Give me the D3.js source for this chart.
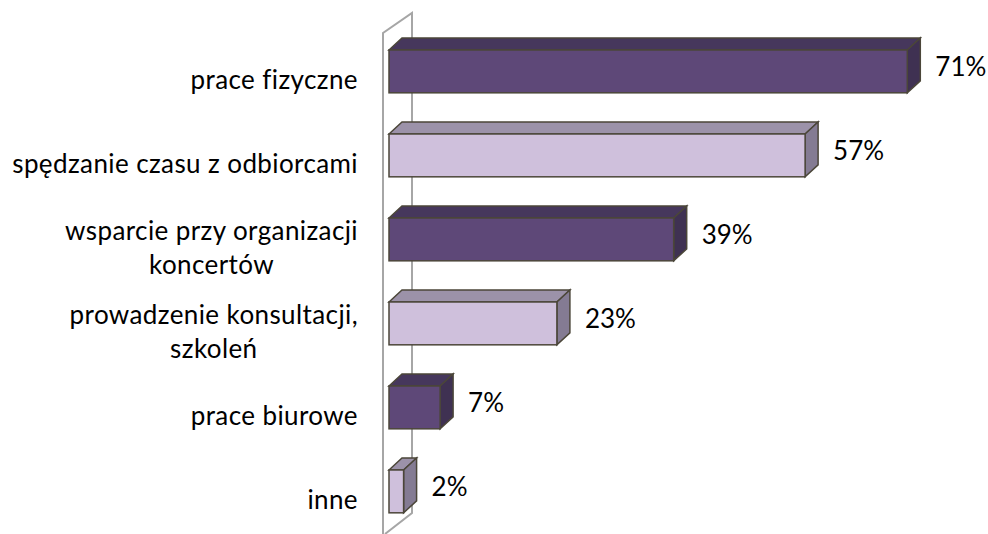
<!DOCTYPE html>
<html>
<head>
<meta charset="utf-8">
<script src="https://cdn.jsdelivr.net/npm/d3@7"></script>
<style>
  body { margin: 0; background: #fff; }
  svg { display: block; }
  text { font-family: Lato, "Open Sans", sans-serif; fill: #000; }
</style>
</head>
<body>
<div id="chart"></div>
<script>
var categories = ["prace fizyczne", "spędzanie czasu z odbiorcami", "wsparcie przy organizacji\nkoncertów",
  "prowadzenie konsultacji,\nszkoleń", "prace biurowe", "inne"];
var values = [71, 57, 39, 23, 7, 2];

var width = 988, height = 534;
var depthX = 13, depthY = 12;

var svg = d3.select("#chart").append("svg")
  .attr("width", width)
  .attr("height", height);

var x = d3.scaleLinear().domain([0, 80]).range([389, 973]);
var y = d3.scaleBand().domain(categories).range([29.4, 533.4])
  .paddingInner(0.49).paddingOuter(0.245);

// back wall
var wx = x(0) - 6, wd = 29, wh = 20;
svg.append("path")
  .attr("d", "M" + wx + "," + (height + 2) + "L" + wx + ",33L" + (wx + wd) + "," + (33 - wh) +
    "L" + (wx + wd) + "," + 513 + "L" + (wx + 2) + "," + (513 + wh + 1))
  .attr("fill", "none")
  .attr("stroke", "#a6a6a6")
  .attr("stroke-width", 2);

var colors = [
  { front: "#5e4878", top: "#46375c", side: "#3f3152" },
  { front: "#cfc0dc", top: "#9c92a9", side: "#847b93" }
];
var outline = "#4b4639";

var bars = svg.selectAll("g.bar")
  .data(values)
  .enter()
  .append("g")
  .attr("class", "bar");

bars.each(function (d, i) {
  var g = d3.select(this);
  var c = colors[i % 2];
  var x0 = x(0), x1 = x(d), y0 = y(categories[i]), h = y.bandwidth();
  g.append("path")
    .attr("d", "M" + x0 + "," + y0 + "L" + (x0 + depthX) + "," + (y0 - depthY) +
      "L" + (x1 + depthX) + "," + (y0 - depthY) + "L" + x1 + "," + y0 + "Z")
    .attr("fill", c.top).attr("stroke", outline).attr("stroke-width", 1.5);
  g.append("path")
    .attr("d", "M" + x1 + "," + y0 + "L" + (x1 + depthX) + "," + (y0 - depthY) +
      "L" + (x1 + depthX) + "," + (y0 + h - depthY) + "L" + x1 + "," + (y0 + h) + "Z")
    .attr("fill", c.side).attr("stroke", outline).attr("stroke-width", 1.5);
  g.append("rect")
    .attr("x", x0).attr("y", y0)
    .attr("width", x1 - x0).attr("height", h)
    .attr("fill", c.front).attr("stroke", outline).attr("stroke-width", 1.5);
  g.append("text")
    .attr("x", x1 + 28)
    .attr("y", y0 + h / 2 - 5)
    .attr("dominant-baseline", "central")
    .style("font-size", "26px")
    .text(d + "%");
});

// category labels: block right-aligned, lines centred inside it
var labelRight = 358;
svg.selectAll("text.cat")
  .data(categories)
  .enter()
  .append("text")
  .attr("class", "cat")
  .attr("text-anchor", "middle")
  .style("font-size", "26px")
  .style("letter-spacing", "0.4px")
  .each(function (d) {
    var lines = d.split("\n");
    var cy = y(d) + y.bandwidth() / 2 + 8;
    var lh = 34;
    var t = d3.select(this);
    var spans = lines.map(function (l, k) {
      return t.append("tspan")
        .attr("y", cy + (k - (lines.length - 1) / 2) * lh)
        .attr("dominant-baseline", "central")
        .text(l);
    });
    var w = d3.max(spans, function (s) { return s.node().getComputedTextLength(); });
    spans.forEach(function (s) { s.attr("x", labelRight - w / 2); });
  });
</script>
</body>
</html>
